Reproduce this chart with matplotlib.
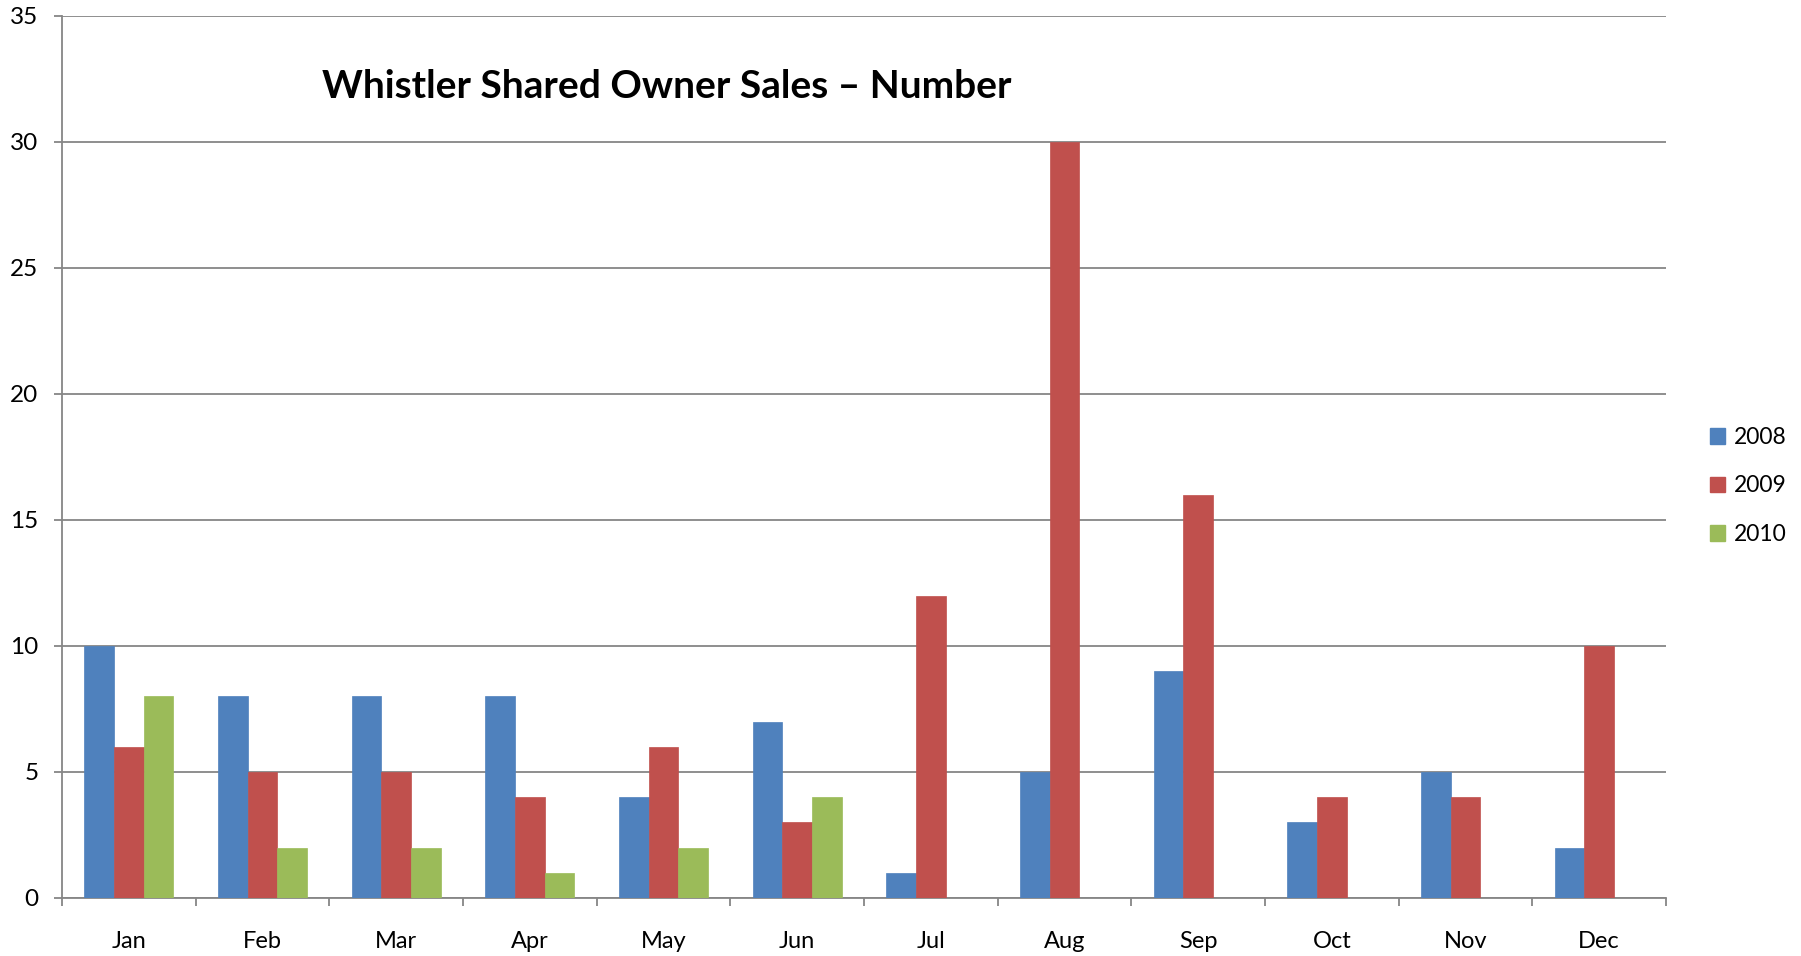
import matplotlib
matplotlib.use("Agg")
import matplotlib.pyplot as plt
import numpy as np
from matplotlib.patches import Patch

months = ["Jan", "Feb", "Mar", "Apr", "May", "Jun", "Jul", "Aug", "Sep", "Oct", "Nov", "Dec"]
sales_2008 = [10, 8, 8, 8, 4, 7, 1, 5, 9, 3, 5, 2]
sales_2009 = [6, 5, 5, 4, 6, 3, 12, 30, 16, 4, 4, 10]
sales_2010 = [8, 2, 2, 1, 2, 4, None, None, None, None, None, None]
series_names = ["2008", "2009", "2010"]
colors = ["#4F81BD", "#C0504D", "#9BBB59"]
title = "Whistler Shared Owner Sales \u2013 Number"

plt.rcParams['font.family'] = ['Lato', 'DejaVu Sans']

fig = plt.figure(figsize=(18.01, 9.56), dpi=100)
ax = fig.add_axes([62/1801, 58/956, (1666-62)/1801, (898-16)/956])

x = np.arange(len(months))
bw = 0.667 / 3
series = [sales_2008, sales_2009, sales_2010]
for i, (vals, c) in enumerate(zip(series, colors)):
    xs = [xi + (i - 1) * bw for xi, v in zip(x, vals) if v is not None]
    vs = [v for v in vals if v is not None]
    ax.bar(xs, vs, width=bw, color=c, edgecolor=c, linewidth=0.5, zorder=3)

ax.set_xlim(-0.5, len(months) - 0.5)
ax.set_ylim(0, 35)
ax.set_yticks(range(0, 36, 5))
ax.grid(axis='y', color='#868686', linewidth=1.3, zorder=0)
ax.set_axisbelow(True)

ax.set_xticks(x)
ax.set_xticklabels(months, fontsize=17)
ax.set_xticks(np.arange(-0.5, len(months), 1), minor=True)
ax.tick_params(axis='x', which='major', length=0, pad=24)
ax.tick_params(axis='x', which='minor', length=6, width=1.3, color='#868686', direction='out')
ax.tick_params(axis='y', length=6, width=1.3, color='#868686', direction='out', labelsize=17.5, pad=11)

for s in ['top', 'right']:
    ax.spines[s].set_visible(False)
for s in ['left', 'bottom']:
    ax.spines[s].set_color('#868686')
    ax.spines[s].set_linewidth(1.3)

fig.text(322/1801, 1 - 87/956, title, fontsize=28, fontweight='bold', va='center', ha='left')

handles = [Patch(facecolor=c, edgecolor=c, label=n) for c, n in zip(colors, series_names)]
leg = fig.legend(handles=handles, loc='center left', bbox_to_anchor=(1701/1801, 1 - 486/956),
                 frameon=False, fontsize=16.5, handlelength=0.65, handleheight=0.65,
                 handletextpad=0.4, labelspacing=1.2, borderaxespad=0)

fig.savefig("out.png", dpi=100)
